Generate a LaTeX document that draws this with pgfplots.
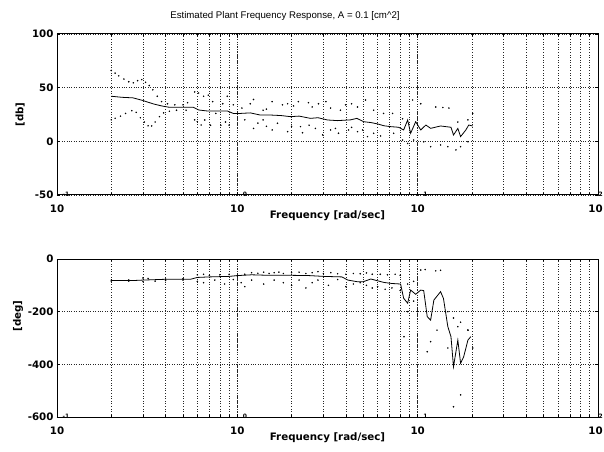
\documentclass[border=0pt]{standalone}
\usepackage{fontspec}
\setmainfont{DejaVu Sans}
\newfontfamily\titlefont{Liberation Sans}
\usepackage{pgfplots}
\pgfplotsset{compat=1.18}
\newcommand{\dec}[1]{10\rlap{\hspace{-1.5bp}\smash{\raisebox{16bp}{\fontsize{6}{6}\selectfont #1}}}}
\newcommand{\declast}[1]{\hspace*{-5bp}10\rlap{\hspace{-4bp}\smash{\raisebox{16bp}{\fontsize{6}{6}\selectfont #1}}}}

\begin{document}
\begin{tikzpicture}
\useasboundingbox (0,0) rectangle (604bp,452bp);
\node[font=\titlefont\fontsize{9.7}{11}\selectfont] at (285bp,436bp) {Estimated Plant Frequency Response, A = 0.1 [cm\textasciicircum 2]};

% ---------- magnitude ----------
\begin{axis}[at={(57bp,257bp)}, anchor=south west,
  scale only axis, width=541bp, height=161bp,
  xmode=log, xmin=0.1, xmax=100,
  xtick={0.1,1,10,100},
  xticklabels={\dec{-1},\dec{0},\dec{1},\declast{2}},
  ymin=-50, ymax=100, ytick={-50,0,50,100},
  xmajorgrids, xminorgrids, ymajorgrids,
  grid style={dotted, black!85, line width=0.6pt},
  minor grid style={dotted, black!85, line width=0.6pt},
  axis line style={line width=1pt},
  tick align=inside,
  major tick length=3bp, minor tick length=2bp,
  tick style={black, line width=0.6pt},
  tick label style={font=\bfseries\fontsize{10.3}{12}\selectfont},
  xticklabel style={yshift=-6bp},
  label style={font=\bfseries\fontsize{10.3}{12}\selectfont},
  /pgf/number format/assume math mode=true,
  xlabel={Frequency [rad/sec]},
  xlabel style={at={(axis description cs:0.5,0)}, anchor=center, yshift=-21bp},
  ylabel={[db]},
  ylabel style={at={(axis description cs:-0.068,0.5)}, anchor=center},
  clip=false]
\addplot[black, only marks, mark=*, mark size=0.55pt] table {
x y
0.200 66
0.210 63.5
0.220 61
0.235 58
0.250 55.5
0.265 54.5
0.280 56.5
0.295 57.5
0.310 55
0.325 52
0.340 48
0.360 42
0.380 37
0.410 35
0.450 34
0.500 34
0.530 36
0.580 46
0.610 45
0.650 42
0.690 43
0.730 37
0.830 35
0.880 42
0.950 34
1.06 31
1.18 35
1.23 39
1.39 29
1.45 30
1.56 37
1.78 34
1.90 35
2.05 33
2.18 37
2.48 36
2.60 32
2.82 35
3.10 37
3.29 31
3.73 29
3.98 34
4.30 35
4.64 32
5.14 38.5
5.70 29
6.47 26
7.26 26
8.25 21
9.38 38.5
10.4 35
12.6 32
13.8 31.5
14.9 31
16.7 18
19.0 20
20.2 26
};
\addplot[black, only marks, mark=*, mark size=0.55pt] table {
x y
0.200 20
0.210 21.5
0.225 23.5
0.240 26
0.260 28.5
0.275 27
0.290 22
0.305 18
0.320 14.5
0.335 14.3
0.350 18
0.370 23
0.390 26.5
0.420 28
0.460 29
0.520 29
0.580 20
0.600 18.3
0.630 15.2
0.660 19.9
0.710 15
0.760 26
0.810 15
0.860 18
0.900 15
1.10 20
1.23 12
1.30 17
1.39 20
1.45 14
1.56 10.6
1.67 16.8
1.90 9
2.00 14
2.24 13.7
2.30 8
2.50 15
2.71 12
2.97 6
3.29 10.6
3.50 12
3.64 7.5
4.14 10.6
4.30 13
4.64 9
4.95 10.6
5.27 4.4
5.70 7.5
6.23 5
7.36 7.5
8.25 1.2
8.80 -2
9.50 1.2
10.8 -0.4
11.8 -5
13.4 -3.4
14.7 -5
16.3 -8
17.3 -5
19.0 -0.4
};
\addplot[black, line width=0.8pt, mark=none] table {
x y
0.200 42
0.230 41
0.264 40.5
0.300 38
0.340 35
0.380 33
0.420 31.7
0.570 31.7
0.610 29.2
0.680 28.3
0.880 28.3
0.950 26
1.04 26
1.18 26.5
1.34 24.5
1.53 24.5
1.75 24
1.97 23
2.20 23.5
2.54 21.4
2.80 22
3.16 19.9
3.59 19.3
4.24 20
4.60 21.4
5.01 18.3
5.50 17.5
6.00 16.2
6.50 14.5
7.08 13.7
7.84 13.1
8.36 10.6
8.80 19.9
9.14 7.5
9.75 18.3
10.4 10.6
11.1 15.2
11.8 12.1
13.4 14.3
15.3 13.1
15.8 5.9
16.7 12
17.3 4.4
18.5 10.6
19.2 15.2
20.2 14.3
};
\end{axis}

% ---------- phase ----------
\begin{axis}[at={(57bp,35bp)}, anchor=south west,
  scale only axis, width=541bp, height=158bp,
  xmode=log, xmin=0.1, xmax=100,
  xtick={0.1,1,10,100},
  xticklabels={\dec{-1},\dec{0},\dec{1},\declast{2}},
  ymin=-600, ymax=0, ytick={-600,-400,-200,0},
  xmajorgrids, xminorgrids, ymajorgrids,
  grid style={dotted, black!85, line width=0.6pt},
  minor grid style={dotted, black!85, line width=0.6pt},
  axis line style={line width=1pt},
  tick align=inside,
  major tick length=3bp, minor tick length=2bp,
  tick style={black, line width=0.6pt},
  tick label style={font=\bfseries\fontsize{10.3}{12}\selectfont},
  xticklabel style={yshift=-6bp},
  label style={font=\bfseries\fontsize{10.3}{12}\selectfont},
  /pgf/number format/assume math mode=true,
  xlabel={Frequency [rad/sec]},
  xlabel style={at={(axis description cs:0.5,0)}, anchor=center, yshift=-21bp},
  ylabel={[deg]},
  ylabel style={at={(axis description cs:-0.072,0.64)}, anchor=center},
  clip=false]
\addplot[black, only marks, mark=*, mark size=0.55pt] table {
x y
0.20 -80
0.25 -80
0.30 -72
0.32 -74
0.40 -76
0.50 -75
0.60 -60
0.65 -58
0.70 -62
0.80 -60
0.90 -58
1.0 -64
1.1 -58
1.2 -52
1.3 -54
1.4 -50
1.5 -55
1.6 -52
1.7 -50
1.8 -55
2.0 -52
2.2 -50
2.4 -55
2.6 -52
2.8 -48
3.0 -55
3.3 -52
3.6 -56
4.0 -58
4.4 -55
4.8 -56
5.2 -53
5.6 -58
6.2 -58
6.8 -60
7.5 -58
8.0 -62
8.8 -95
9.5 -85
10.4 -42
11.0 -40
12.6 -45
13.4 -43
14.7 -200
15.8 -224
17.3 -240
19.0 -270
20.2 -338
};
\addplot[black, only marks, mark=*, mark size=0.55pt] table {
x y
0.20 -84
0.25 -84
0.30 -86
0.35 -84
0.40 -82
0.50 -80
0.60 -85
0.65 -90
0.75 -80
0.85 -95
0.95 -78
1.05 -90
1.1 -105
1.2 -80
1.4 -95
1.6 -80
1.8 -90
2.0 -100
2.2 -80
2.4 -110
2.6 -90
2.8 -80
3.2 -100
3.6 -78
4.0 -105
4.4 -95
4.8 -90
5.2 -100
5.6 -110
6.0 -105
6.6 -115
7.2 -110
8.0 -120
8.4 -295
8.8 -200
9.5 -160
10.0 -200
11.3 -352
11.8 -314
12.8 -270
14.7 -338
15.8 -561
16.7 -257
17.3 -516
19.0 -270
};
\addplot[black, line width=0.8pt, mark=none] table {
x y
0.20 -82
0.26 -82
0.30 -80
0.40 -77
0.55 -77
0.60 -70
0.70 -68
0.90 -66
1.0 -63
1.2 -60
1.5 -62
2.0 -62
2.5 -63
3.0 -66
3.8 -68
4.1 -80
4.6 -86
5.0 -86
5.5 -76
6.5 -89
7.2 -93
8.04 -95
8.36 -149
8.80 -168
9.14 -118
9.75 -134
10.4 -118
10.8 -120
11.3 -219
11.8 -232
12.3 -156
13.4 -124
13.9 -150
14.7 -257
15.3 -295
15.8 -409
16.7 -308
17.3 -396
18.0 -371
19.0 -308
19.7 -295
};
\end{axis}
\end{tikzpicture}
\end{document}
